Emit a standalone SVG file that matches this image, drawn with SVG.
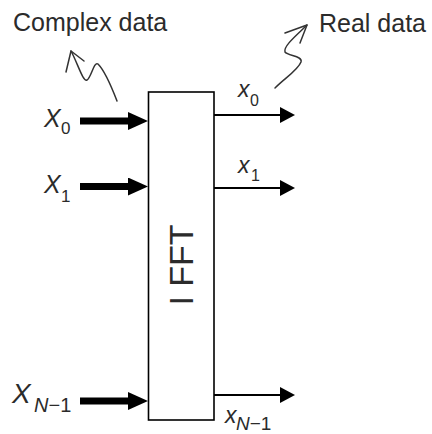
<svg xmlns="http://www.w3.org/2000/svg" width="432" height="434" viewBox="0 0 432 434">
<style>
  .lbl { font-family: "Liberation Sans", Arial, sans-serif; fill: #2b2b2b; }
  .it { font-style: italic; }
  .thick { stroke: #000; stroke-width: 7; fill: none; }
  .thin { stroke: #000; stroke-width: 2; fill: none; }
  .sq { stroke: #333; stroke-width: 1.5; fill: none; stroke-linecap: round; stroke-linejoin: round; }
</style>
<defs>
  <marker id="headThick" viewBox="0 0 20 18" refX="2" refY="9" markerWidth="20" markerHeight="18" markerUnits="userSpaceOnUse" orient="auto">
    <path d="M0,0 L20,9 L0,18 Z" fill="#000"/>
  </marker>
  <marker id="headThin" viewBox="0 0 15 16" refX="1" refY="8" markerWidth="15" markerHeight="16" markerUnits="userSpaceOnUse" orient="auto">
    <path d="M0,0 L15,8 L0,16 Z" fill="#000"/>
  </marker>
</defs>
<rect width="432" height="434" fill="#fff"/>

<g id="ifft">
  <rect x="148.5" y="92" width="65.5" height="328" fill="#fff" stroke="#000" stroke-width="1.6"/>
  <text class="lbl" x="0" y="0" font-size="34" text-anchor="middle" transform="translate(193,265) rotate(-90)">I FFT</text>
</g>

<g id="connectors">
  <line class="thick" x1="80" y1="121" x2="130" y2="121" marker-end="url(#headThick)"/>
  <line class="thick" x1="80" y1="186.5" x2="130" y2="186.5" marker-end="url(#headThick)"/>
  <line class="thick" x1="80" y1="401" x2="130" y2="401" marker-end="url(#headThick)"/>
  <line class="thin" x1="214" y1="115" x2="281" y2="115" marker-end="url(#headThin)"/>
  <line class="thin" x1="214" y1="188" x2="281" y2="188" marker-end="url(#headThin)"/>
  <line class="thin" x1="214" y1="395" x2="281" y2="395" marker-end="url(#headThin)"/>
</g>

<g id="complex-data">
  <text class="lbl" x="13" y="31" font-size="25">Complex data</text>
  <path class="sq" d="M117,101 C112,88 104,70 98,64 C94,61 91,78 87,80 C83,82 78,64 71,51"/>
  <path class="sq" d="M66,72 L71,51 L84,61"/>
</g>

<g id="real-data">
  <text class="lbl" x="319" y="32" font-size="25">Real data</text>
  <path class="sq" d="M275,88 C285,78 298,70 301,62 C303,56 288,56 285,52 C283,46 298,34 307,25"/>
  <path class="sq" d="M285,33 L307,25 L300,43"/>
</g>

<g id="in-labels">
  <text class="lbl" y="127" font-size="25"><tspan class="it" x="44">X</tspan><tspan x="61" y="134" font-size="17">0</tspan></text>
  <text class="lbl" y="193" font-size="25"><tspan class="it" x="44">X</tspan><tspan x="61" y="202" font-size="17">1</tspan></text>
  <text class="lbl" y="403" font-size="28"><tspan class="it" x="12">X</tspan><tspan x="34" y="412" font-size="20"><tspan class="it">N</tspan>−1</tspan></text>
</g>

<g id="out-labels">
  <text class="lbl" y="97" font-size="23"><tspan class="it" x="238">x</tspan><tspan x="250" y="106" font-size="16">0</tspan></text>
  <text class="lbl" y="173" font-size="23"><tspan class="it" x="238">x</tspan><tspan x="251" y="181" font-size="16">1</tspan></text>
  <text class="lbl" y="423" font-size="23"><tspan class="it" x="225">x</tspan><tspan x="236" y="430" font-size="19"><tspan class="it">N</tspan>−1</tspan></text>
</g>
</svg>
